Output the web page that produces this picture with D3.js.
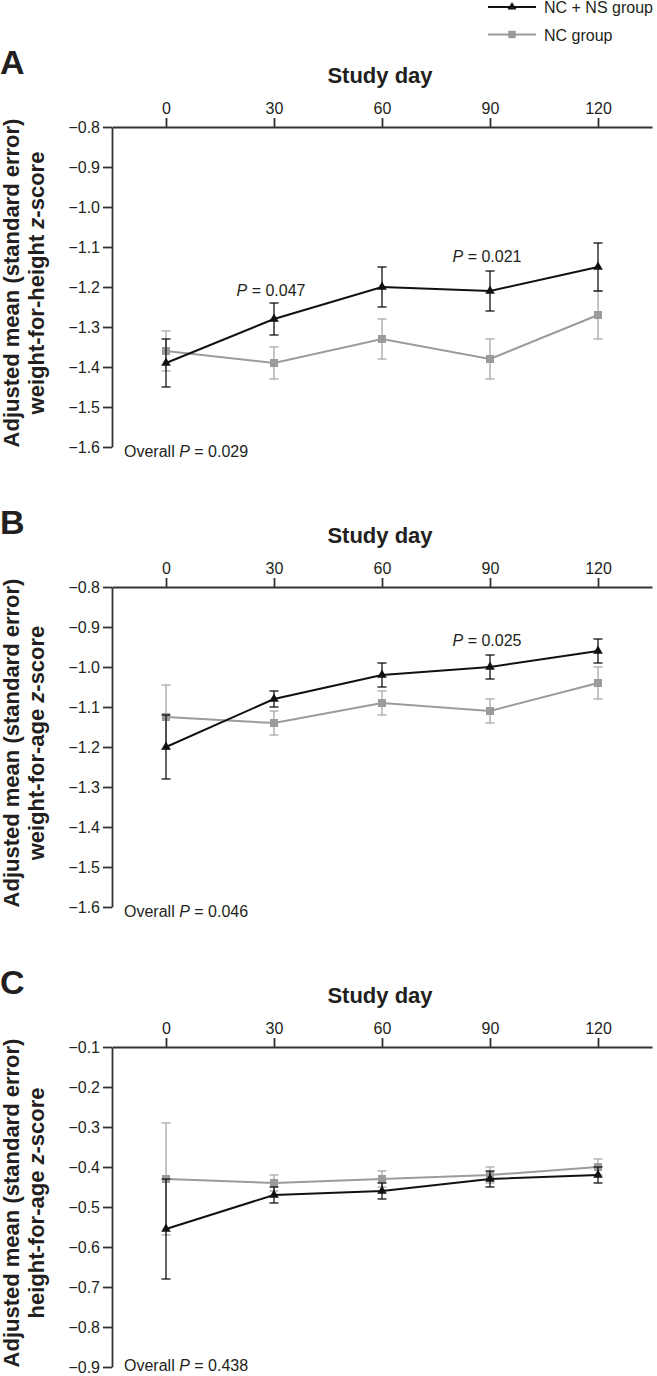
<!DOCTYPE html>
<html>
<head>
<meta charset="utf-8">
<script src="https://cdn.jsdelivr.net/npm/d3@7"></script>
<style>
  body { margin: 0; background: #fff; }
  text { font-family: "Liberation Sans", Arial, Helvetica, sans-serif; fill: #231f20; }
</style>
</head>
<body>
<script>
// study days (x categories)
const days = [0, 30, 60, 90, 120];

// A: weight-for-height z-score
const whzNCNS = [-1.39, -1.28, -1.20, -1.21, -1.15];
const whzNCNSse = [0.06, 0.04, 0.05, 0.05, 0.06];
const whzNC = [-1.36, -1.39, -1.33, -1.38, -1.27];
const whzNCse = [0.05, 0.04, 0.05, 0.05, 0.06];

// B: weight-for-age z-score
const wazNCNS = [-1.20, -1.08, -1.02, -1.00, -0.96];
const wazNCNSse = [0.08, 0.02, 0.03, 0.03, 0.03];
const wazNC = [-1.125, -1.14, -1.09, -1.11, -1.04];
const wazNCse = [0.08, 0.03, 0.03, 0.03, 0.04];

// C: height-for-age z-score
const hazNCNS = [-0.555, -0.47, -0.46, -0.43, -0.42];
const hazNCNSse = [0.125, 0.02, 0.02, 0.02, 0.02];
const hazNC = [-0.43, -0.44, -0.43, -0.42, -0.40];
const hazNCse = [0.14, 0.02, 0.02, 0.02, 0.02];

// y tick labels
const yTicksAB = [-0.8, -0.9, -1.0, -1.1, -1.2, -1.3, -1.4, -1.5, -1.6];
const yTicksC = [-0.1, -0.2, -0.3, -0.4, -0.5, -0.6, -0.7, -0.8, -0.9];

const seriesNames = ["NC + NS group", "NC group"];
const panelLetters = ["A", "B", "C"];
const yTitles = ["weight-for-height", "weight-for-age", "height-for-age"];
const overallP = ["0.029", "0.046", "0.438"];
// pairwise P labels: [day, value where label sits, p]
const pLabelsA = [[30, -1.222, "0.047"], [90, -1.137, "0.021"]];
const pLabelsB = [[90, -0.947, "0.025"]];
const pLabelsC = [];

let svgWidth = 657, svgHeight = 1376;
let svg = d3.select("body").append("svg")
  .attr("width", svgWidth)
  .attr("height", svgHeight);

const black = "#111", gray = "#9b9b9b", grayBar = "#a8a8a8";
const fmt = v => d3.format(".1f")(v).replace("-", "\u2212");

let xscale = d3.scaleLinear().domain([-15, 135]).range([112, 652]);

let panels = [
  {ncns: whzNCNS, ncnsSe: whzNCNSse, nc: whzNC, ncSe: whzNCse, ticks: yTicksAB, p: pLabelsA},
  {ncns: wazNCNS, ncnsSe: wazNCNSse, nc: wazNC, ncSe: wazNCse, ticks: yTicksAB, p: pLabelsB},
  {ncns: hazNCNS, ncnsSe: hazNCNSse, nc: hazNC, ncSe: hazNCse, ticks: yTicksC, p: pLabelsC}
];

panels.forEach(function(pn, i) {
  let top = 127 + 460 * i;
  let h = 320;
  let yscale = d3.scaleLinear()
    .domain([d3.min(pn.ticks), d3.max(pn.ticks)])
    .range([top + h, top]);

  let g = svg.append("g");

  // panel letter
  g.append("text").attr("x", 0).attr("y", top - 53)
    .style("font-size", "34px").style("font-weight", "bold")
    .text(panelLetters[i]);

  // x axis title
  g.append("text").attr("x", 380).attr("y", top - 44)
    .attr("text-anchor", "middle")
    .style("font-size", "22px").style("font-weight", "bold")
    .text("Study day");

  // axes
  let xAxis = d3.axisTop(xscale).tickValues(days).tickSize(9).tickSizeOuter(0).tickPadding(4);
  let gx = g.append("g").attr("transform", "translate(0," + top + ")").call(xAxis);
  let yAxis = d3.axisLeft(yscale).tickValues(pn.ticks).tickFormat(fmt).tickSize(9).tickSizeOuter(0).tickPadding(3);
  let gy = g.append("g").attr("transform", "translate(112,0)").call(yAxis);
  [gx, gy].forEach(a => {
    a.selectAll("path, line").attr("stroke", "#333").attr("stroke-width", 1.8);
    a.selectAll("text").style("font-size", "16px").style("font-family", "'Liberation Sans', Arial, sans-serif").attr("fill", "#231f20");
  });

  // y axis title (two lines)
  let cy = top + h / 2 - 4;
  g.append("text")
    .attr("transform", "translate(19," + cy + ") rotate(-90)")
    .attr("text-anchor", "middle")
    .style("font-size", "22px").style("font-weight", "bold")
    .text("Adjusted mean (standard error)");
  let t2 = g.append("text")
    .attr("transform", "translate(44," + cy + ") rotate(-90)")
    .attr("text-anchor", "middle")
    .style("font-size", "22px").style("font-weight", "bold");
  t2.append("tspan").text(yTitles[i] + " ");
  t2.append("tspan").style("font-style", "italic").text("z");
  t2.append("tspan").text("-score");

  // series: gray first, black on top
  let series = [
    {vals: pn.nc, se: pn.ncSe, color: gray, bar: grayBar, sym: d3.symbolSquare, size: 64},
    {vals: pn.ncns, se: pn.ncnsSe, color: black, bar: black, sym: d3.symbolTriangle, size: 40}
  ];
  series.forEach(function(s) {
    let pts = days.map((d, k) => ({day: d, v: s.vals[k], se: s.se[k]}));
    let eb = g.append("g").attr("stroke", s.bar).attr("stroke-width", 1.3).attr("fill", "none");
    eb.selectAll("line.v").data(pts).enter().append("line")
      .attr("x1", d => xscale(d.day)).attr("x2", d => xscale(d.day))
      .attr("y1", d => yscale(d.v + d.se)).attr("y2", d => yscale(d.v - d.se));
    eb.selectAll("line.t").data(pts).enter().append("line")
      .attr("x1", d => xscale(d.day) - 4.5).attr("x2", d => xscale(d.day) + 4.5)
      .attr("y1", d => yscale(d.v + d.se)).attr("y2", d => yscale(d.v + d.se));
    eb.selectAll("line.b").data(pts).enter().append("line")
      .attr("x1", d => xscale(d.day) - 4.5).attr("x2", d => xscale(d.day) + 4.5)
      .attr("y1", d => yscale(d.v - d.se)).attr("y2", d => yscale(d.v - d.se));

    let line = d3.line().x(d => xscale(d.day)).y(d => yscale(d.v));
    g.append("path").datum(pts)
      .attr("d", line).attr("fill", "none")
      .attr("stroke", s.color).attr("stroke-width", 2);

    g.selectAll(null).data(pts).enter().append("path")
      .attr("d", d3.symbol().type(s.sym).size(s.size))
      .attr("transform", d => "translate(" + xscale(d.day) + "," + yscale(d.v) + ")")
      .attr("fill", s.color);
  });

  // P labels
  pn.p.forEach(function(p) {
    let t = g.append("text").attr("x", xscale(p[0]) - 3).attr("y", yscale(p[1]))
      .attr("text-anchor", "middle").style("font-size", "16px");
    t.append("tspan").style("font-style", "italic").text("P");
    t.append("tspan").text(" = " + p[2]);
  });

  // overall P (kept inside the page at the bottom)
  let ov = g.append("text").attr("x", 124).attr("y", Math.min(top + h + 10, svgHeight - 5)).style("font-size", "16px");
  ov.append("tspan").text("Overall ");
  ov.append("tspan").style("font-style", "italic").text("P");
  ov.append("tspan").text(" = " + overallP[i]);
});

// legend
let legend = svg.append("g");
[
  {color: black, sym: d3.symbolTriangle, size: 34},
  {color: gray, sym: d3.symbolSquare, size: 56}
].forEach(function(l, k) {
  let y = 7 + 27.5 * k;
  legend.append("line").attr("x1", 488).attr("x2", 536).attr("y1", y).attr("y2", y)
    .attr("stroke", l.color).attr("stroke-width", 2);
  legend.append("path").attr("d", d3.symbol().type(l.sym).size(l.size))
    .attr("transform", "translate(512," + y + ")").attr("fill", l.color);
  legend.append("text").attr("x", 544).attr("y", y + 6)
    .style("font-size", "16px").text(seriesNames[k]);
});
</script>
</body>
</html>
